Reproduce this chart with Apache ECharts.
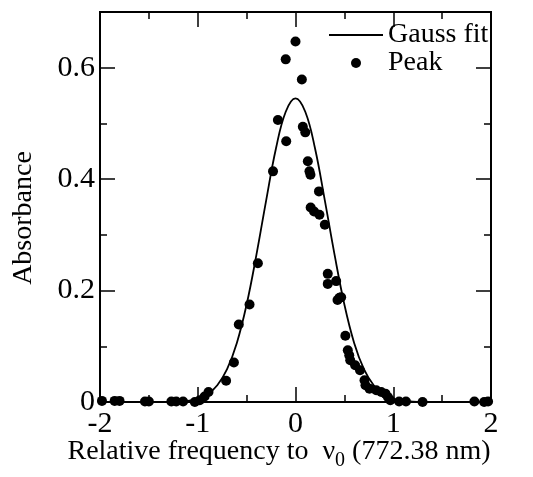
<!DOCTYPE html>
<html>
<head>
<meta charset="utf-8">
<script src="https://cdn.jsdelivr.net/npm/echarts@6/dist/echarts.min.js"></script>
<style>html,body{margin:0;padding:0;background:#fff;}#c{width:533px;height:477px;}</style>
</head>
<body>
<div id="c"></div>
<script>
// Measured peak points (relative frequency, absorbance)
const peakX = [-1.98,-1.85,-1.80,-1.54,-1.50,-1.27,-1.22,-1.15,-1.03,-0.98,-0.93,-0.89,-0.71,-0.63,-0.58,-0.47,-0.385,-0.23,-0.18,-0.10,-0.095,
  0.00,0.065,0.075,0.10,0.126,0.143,0.153,0.155,0.19,0.245,0.24,0.30,0.33,0.33,0.416,0.43,0.45,0.467,0.51,0.535,0.55,0.56,0.61,0.66,
  0.706,0.716,0.757,0.826,0.877,0.92,0.945,0.97,1.06,1.13,1.30,1.83,1.93,1.97];
const peakY = [0.002,0.002,0.002,0.001,0.001,0.001,0.001,0.001,0.000,0.003,0.010,0.018,0.038,0.071,0.139,0.175,0.249,0.414,0.506,0.615,0.468,
  0.647,0.579,0.494,0.484,0.432,0.414,0.408,0.349,0.342,0.336,0.378,0.318,0.230,0.212,0.217,0.183,0.187,0.188,0.119,0.093,0.084,0.075,0.066,0.057,
  0.039,0.030,0.024,0.021,0.018,0.015,0.009,0.003,0.001,0.001,0.000,0.001,0.000,0.001];
// Gauss fit curve
const fitX = [-2.0,-1.5,-1.4,-1.3,-1.2,-1.1,-1.0,-0.9,-0.8,-0.7,-0.6,-0.5,-0.4,-0.3,-0.2,-0.1,0.0,0.1,0.2,0.3,0.4,0.5,0.6,0.7,0.8,0.9,1.0,1.1,1.2,1.3,1.4,1.5,2.0];
const fitY = [0,0,0.0001,0.0002,0.0008,0.0022,0.0058,0.0138,0.030,0.059,0.106,0.175,0.264,0.362,0.455,0.521,0.545,0.521,0.455,0.362,0.264,0.175,0.106,0.059,0.030,0.0138,0.0058,0.0022,0.0008,0.0002,0.0001,0,0];
const xTicks = [-2,-1,0,1,2];
const yTicks = [0,0.2,0.4,0.6];

const FONT = 'Liberation Serif';
const fitData = fitX.map((x,i)=>[x,fitY[i]]);
const peakData = peakX.map((x,i)=>[x,peakY[i]]);

function xAx(pos, major, show) {
  return {
    type:'value', min:-2, max:2, interval: major ? 1 : 0.5, position:pos,
    axisLine:{show:true, onZero:false, lineStyle:{color:'#000', width:2}},
    axisTick:{show:true, inside:true, length: major?15:7, lineStyle:{color:'#000', width:1.5}},
    axisLabel:{show:show, color:'#000', fontFamily:FONT, fontSize:30, margin:7,
      formatter:(v)=> xTicks.indexOf(v)>=0 ? String(v) : ''},
    splitLine:{show:false}
  };
}
function yAx(pos, major, show) {
  return {
    type:'value', min:0, max:0.7, interval: major ? 0.2 : 0.1, position:pos,
    axisLine:{show:true, onZero:false, lineStyle:{color:'#000', width:2}},
    axisTick:{show:true, inside:true, length: major?15:7, lineStyle:{color:'#000', width:1.5}},
    axisLabel:{show:show, color:'#000', fontFamily:FONT, fontSize:30, margin:5,
      formatter:(v)=> { const r = Math.round(v*10)/10; return yTicks.indexOf(r)>=0 ? String(r) : ''; }},
    splitLine:{show:false}
  };
}

const xA = xAx('bottom', true, true);
xA.name = '{m|Relative frequency to  \u03bd}{sub|0}{m| (772.38 nm)}';
xA.nameLocation = 'middle';
xA.nameGap = 36;
xA.nameMoveOverlap = false;
xA.nameTextStyle = {color:'#000', fontFamily:FONT, fontSize:28, padding:[0,33,0,0],
  rich:{
    m:{fontFamily:FONT, fontSize:28, color:'#000', lineHeight:32, verticalAlign:'top'},
    sub:{fontFamily:FONT, fontSize:20, color:'#000', lineHeight:20, verticalAlign:'top', padding:[13,0,0,0]}
  }};
const yA = yAx('left', true, true);
yA.name = 'Absorbance';
yA.nameLocation = 'middle';
yA.nameRotate = 90;
yA.nameGap = 62;
yA.nameMoveOverlap = false;
yA.nameTextStyle = {color:'#000', fontFamily:FONT, fontSize:28, padding:[0,22,0,0]};

const chart = echarts.init(document.getElementById('c'), null, {renderer:'canvas'});
chart.setOption({
  backgroundColor:'#fff',
  animation:false,
  grid:{left:100, right:42, top:12, bottom:75, containLabel:false, outerBoundsMode:'none'},
  xAxis:[xA, xAx('bottom', false, false), xAx('top', true, false), xAx('top', false, false)],
  yAxis:[yA, yAx('left', false, false), yAx('right', true, false), yAx('right', false, false)],
  legend:{
    orient:'vertical', left:328, top:21, padding:0, itemWidth:54, itemHeight:10, itemGap:0,
    textStyle:{color:'#000', fontFamily:FONT, fontSize:28},
    data:[{name:'Gauss fit', itemStyle:{opacity:0}}, {name:'Peak', icon:'circle'}]
  },
  series:[
    {name:'Gauss fit', type:'line', data:fitData, smooth:0.4, showSymbol:false, symbol:'none',
     lineStyle:{color:'#000', width:1.8}, itemStyle:{color:'#000'}, z:2},
    {name:'Peak', type:'scatter', data:peakData, symbol:'circle', symbolSize:10,
     itemStyle:{color:'#000', opacity:1}, z:3}
  ]
});
</script>
</body>
</html>
